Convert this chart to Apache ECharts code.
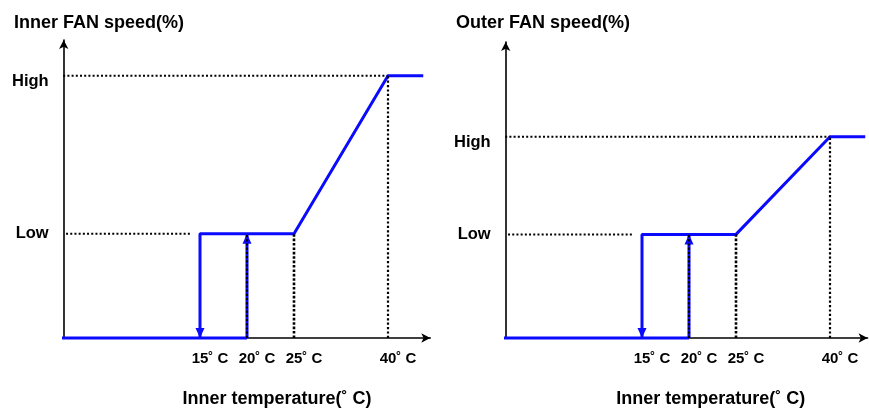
<!DOCTYPE html>
<html>
<head>
<meta charset="utf-8">
<script src="https://cdn.jsdelivr.net/npm/echarts@6/dist/echarts.min.js"></script>
<style>
html,body{margin:0;padding:0;background:#fff;}
#chart{width:869px;height:410px;}
</style>
</head>
<body>
<div id="chart"></div>
<script>
// Schematic temperature breakpoints (ordinal slots on the x axis)
const tempLabels = ['15˚ C', '20˚ C', '25˚ C', '40˚ C'];
const tempSlot = [3, 4, 5, 7];
const axisStart = 0;
const axisEnd = 7.75;
// Fan speed levels (%)
const lowLevel = 35;
const innerHigh = 88;
const outerHigh = 68;
const panelTitles = ['Inner FAN speed(%)', 'Outer FAN speed(%)'];
const xAxisName = 'Inner temperature(˚ C)';

const BLUE = '#0a0aff';
const FONT = '"Liberation Sans", Arial, sans-serif';

const grids = [
  { left: 63.7, width: 366.6, top: 40, height: 298, outerBoundsMode: 'none', containLabel: false },
  { left: 505.7, width: 361.9, top: 42, height: 296, outerBoundsMode: 'none', containLabel: false }
];
const highs = [innerHigh, outerHigh];
const namePad = [60, 48];

function xAxisFor(i) {
  return {
    gridIndex: i, type: 'value', min: 0.1, max: i === 0 ? 7.9 : 7.8,
    axisLine: { show: true, lineStyle: { color: '#000', width: 1.6 }, symbol: ['none', 'arrow'], symbolSize: [7, 9] },
    axisTick: { show: false },
    splitLine: { show: false },
    axisLabel: {
      customValues: tempSlot,
      formatter: v => tempLabels[tempSlot.indexOf(v)] || '',
      color: '#000', fontFamily: FONT, fontWeight: 'bold', fontSize: 15,
      margin: 13, padding: [0, 0, 0, 20]
    },
    name: xAxisName, nameLocation: 'middle', nameGap: 52,
    nameTextStyle: { color: '#000', fontFamily: FONT, fontWeight: 'bold', fontSize: 18, padding: [0, 0, 0, namePad[i]] }
  };
}
function yAxisFor(i) {
  const high = highs[i];
  const lblStyle = { color: '#000', fontFamily: FONT, fontWeight: 'bold', fontSize: 16.5 };
  return {
    gridIndex: i, type: 'value', min: 0, max: 100,
    axisLine: { show: true, lineStyle: { color: '#000', width: 1.6 }, symbol: ['none', 'arrow'], symbolSize: [7, 9] },
    axisTick: { show: false },
    splitLine: { show: false },
    axisLabel: {
      customValues: [lowLevel, high],
      formatter: v => v === lowLevel ? '{lo|Low}' : '{hi|High}',
      margin: 15,
      rich: {
        lo: lblStyle,
        hi: Object.assign({ padding: [12, 0, 0, 0] }, lblStyle)
      }
    }
  };
}

function blueLine(i, data, extra) {
  return Object.assign({
    type: 'line', xAxisIndex: i, yAxisIndex: i, data: data,
    symbol: 'none', showSymbol: true, clip: false, silent: true, z: 3,
    lineStyle: { color: BLUE, width: 3 }, itemStyle: { color: BLUE }
  }, extra || {});
}
function dotLine(i, data, w, gap) {
  return {
    type: 'line', xAxisIndex: i, yAxisIndex: i, data: data,
    symbol: 'none', clip: false, silent: true, z: 4,
    lineStyle: { color: '#000', width: w, type: [w, gap], cap: 'butt' }
  };
}

const series = [];
for (let i = 0; i < 2; i++) {
  const high = highs[i];
  // off segment along the baseline up to 20˚
  series.push(blueLine(i, [[axisStart, 0], [tempSlot[1], 0]]));
  // down arrow at 15˚, low plateau, ramp to high, high plateau
  series.push(blueLine(i, [
    { value: [tempSlot[0], 0], symbol: 'triangle', symbolSize: [9, 10], symbolRotate: 180, symbolOffset: [0, -5] },
    [tempSlot[0], lowLevel], [tempSlot[2], lowLevel], [tempSlot[3], high], [axisEnd, high]
  ]));
  // up arrow at 20˚
  series.push(blueLine(i, [
    [tempSlot[1], 0],
    { value: [tempSlot[1], lowLevel], symbol: 'triangle', symbolSize: [9, 10], symbolOffset: [0, 5] }
  ]));
  // dotted guides
  series.push(dotLine(i, [[axisStart, high], [tempSlot[3], high]], 2, 2.2));
  series.push(dotLine(i, [[0.15, lowLevel], [2.8, lowLevel]], 2, 2.2));
  series.push(dotLine(i, [[tempSlot[1], 0], [tempSlot[1], lowLevel]], 2.2, 2));
  series.push(dotLine(i, [[tempSlot[2], 0], [tempSlot[2], lowLevel]], 2.6, 1.8));
  series.push(dotLine(i, [[tempSlot[3], 0], [tempSlot[3], high]], 2.2, 2.2));
}

const titleStyle = { color: '#000', fontFamily: FONT, fontWeight: 'bold', fontSize: 18 };
const chart = echarts.init(document.getElementById('chart'), null, { renderer: 'canvas' });
chart.setOption({
  animation: false,
  backgroundColor: '#fff',
  title: [
    { text: panelTitles[0], left: 14, top: 14, padding: 0, textStyle: titleStyle },
    { text: panelTitles[1], left: 456, top: 14, padding: 0, textStyle: titleStyle }
  ],
  grid: grids,
  xAxis: [xAxisFor(0), xAxisFor(1)],
  yAxis: [yAxisFor(0), yAxisFor(1)],
  series: series
});
</script>
</body>
</html>
